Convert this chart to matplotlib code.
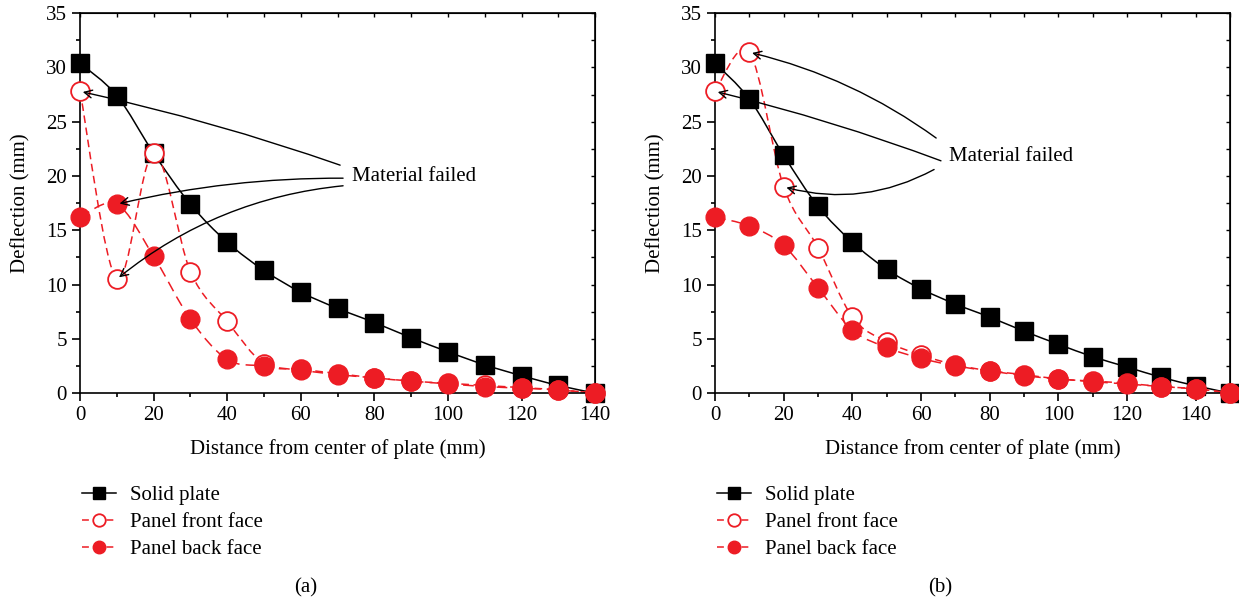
import numpy as np
import matplotlib
matplotlib.use("Agg")
import matplotlib.pyplot as plt
from matplotlib.path import Path
from matplotlib.patches import PathPatch
from matplotlib.lines import Line2D
from matplotlib.ticker import MultipleLocator

plt.rcParams["font.family"] = ["Liberation Serif", "DejaVu Serif"]
plt.rcParams["font.size"] = 15

RED = "#ED1C24"

# (a) plate, 0-140 mm
dist_a = [0, 10, 20, 30, 40, 50, 60, 70, 80, 90, 100, 110, 120, 130, 140]
solid_a = [30.4, 27.4, 22.1, 17.4, 13.9, 11.3, 9.3, 7.8, 6.5, 5.1, 3.8, 2.6, 1.6, 0.7, 0.0]
front_a = [27.8, 10.5, 22.1, 11.2, 6.6, 2.7, 2.2, 1.8, 1.4, 1.1, 0.9, 0.7, 0.5, 0.3, 0.0]
back_a = [16.2, 17.4, 12.6, 6.8, 3.1, 2.5, 2.1, 1.7, 1.4, 1.1, 0.85, 0.6, 0.45, 0.28, 0.0]

# (b) plate, 0-150 mm
dist_b = [0, 10, 20, 30, 40, 50, 60, 70, 80, 90, 100, 110, 120, 130, 140, 150]
solid_b = [30.4, 27.1, 21.9, 17.2, 13.9, 11.4, 9.6, 8.2, 7.0, 5.7, 4.5, 3.35, 2.4, 1.45, 0.67, 0.0]
front_b = [27.8, 31.4, 19.0, 13.4, 7.0, 4.75, 3.5, 2.6, 2.05, 1.7, 1.3, 1.1, 0.9, 0.6, 0.4, 0.0]
back_b = [16.2, 15.4, 13.6, 9.7, 5.8, 4.2, 3.2, 2.5, 2.05, 1.6, 1.3, 1.05, 0.83, 0.6, 0.37, 0.0]

# failure points marked by arrows: (x, y) of each failed reading
failed_a = [(0, 27.8), (10, 17.4), (10, 10.5)]
failed_b = [(10, 31.4), (0, 27.8), (20, 19.0)]


def spline_path(x, y):
    # Catmull-Rom curve through the points, written as cubic Bezier segments
    p = np.column_stack([x, y]).astype(float)
    ext = np.vstack([p[0], p, p[-1]])
    verts = [p[0]]
    codes = [Path.MOVETO]
    for i in range(len(p) - 1):
        p0, p1, p2, p3 = ext[i], ext[i + 1], ext[i + 2], ext[i + 3]
        verts += [p1 + (p2 - p0) / 6, p2 - (p3 - p1) / 6, p2]
        codes += [Path.CURVE4] * 3
    return Path(verts, codes)


def draw_series(ax, x, y, ls, line_color, mk):
    ax.add_patch(PathPatch(spline_path(x, y), fill=False, edgecolor=line_color,
                           linestyle=ls, linewidth=1.1, zorder=2))
    ax.plot(x, y, linestyle="none", zorder=3, clip_on=False, **mk)


def style_axes(ax, xmax):
    ax.set_xlim(0, xmax)
    ax.set_ylim(0, 35)
    ax.xaxis.set_major_locator(MultipleLocator(20))
    ax.xaxis.set_minor_locator(MultipleLocator(10))
    ax.yaxis.set_major_locator(MultipleLocator(5))
    ax.yaxis.set_minor_locator(MultipleLocator(2.5))
    ax.tick_params(which="both", direction="out", top=False, right=False, width=1.2)
    ax.tick_params(which="major", length=6)
    ax.tick_params(which="minor", length=3)
    for s in ax.spines.values():
        s.set_linewidth(1.2)
    # inner ticks on the top and right frame
    sec_x = ax.secondary_xaxis("top")
    sec_x.xaxis.set_major_locator(MultipleLocator(10))
    sec_x.tick_params(direction="in", length=3, labeltop=False, width=1)
    sec_y = ax.secondary_yaxis("right")
    sec_y.yaxis.set_major_locator(MultipleLocator(2.5))
    sec_y.tick_params(direction="in", length=3, labelright=False, width=1)
    ax.set_xlabel("Distance from center of plate (mm)", labelpad=10)
    ax.set_ylabel("Deflection (mm)", labelpad=11)


sq = dict(marker="s", markersize=12.5, markerfacecolor="black", markeredgecolor="black")
oc = dict(marker="o", markersize=13.5, markerfacecolor="white", markeredgecolor=RED,
          markeredgewidth=1.3)
fc = dict(marker="o", markersize=13.5, markerfacecolor=RED, markeredgecolor=RED)

fig = plt.figure(figsize=(12.39, 6.01), dpi=100)
ax_a = fig.add_axes([0.0646, 0.346, 0.4157, 0.632])
ax_b = fig.add_axes([0.5771, 0.346, 0.4157, 0.632])

for ax, x, s, f, b, xmax in [(ax_a, dist_a, solid_a, front_a, back_a, 140),
                             (ax_b, dist_b, solid_b, front_b, back_b, 150)]:
    draw_series(ax, x, s, "-", "black", sq)
    draw_series(ax, x, f, (0, (5, 3)), RED, oc)
    draw_series(ax, x, b, (0, (7, 4)), RED, fc)
    style_axes(ax, xmax)

# "Material failed" callouts
arrow = dict(arrowstyle="->", color="black", lw=1.0, shrinkA=0, shrinkB=2,
             mutation_scale=14)
starts_a = [(70.7, 21.0, 0.03), (71.5, 19.8, 0.06), (71.5, 19.1, 0.15)]
for (px, py), (sx, sy, rad) in zip(failed_a, starts_a):
    ax_a.annotate("", xy=(px, py), xytext=(sx, sy),
                  arrowprops=dict(connectionstyle=f"arc3,rad={rad}", **arrow))
ax_a.text(74.0, 20.0, "Material failed", va="center", ha="left")

starts_b = [(64.4, 23.5, 0.1), (65.8, 21.4, 0.03), (63.8, 20.6, -0.2)]
for (px, py), (sx, sy, rad) in zip(failed_b, starts_b):
    ax_b.annotate("", xy=(px, py), xytext=(sx, sy),
                  arrowprops=dict(connectionstyle=f"arc3,rad={rad}", **arrow))
ax_b.text(68.0, 21.8, "Material failed", va="center", ha="left")

handles = [
    Line2D([], [], color="black", linewidth=1.1, **sq),
    Line2D([], [], color=RED, linewidth=1.1, linestyle=(0, (4.5, 3.5)), **oc),
    Line2D([], [], color=RED, linewidth=1.1, linestyle=(0, (4.5, 3.5)), **fc),
]
for h in handles:
    h.set_markersize(9)
labels = ["Solid plate", "Panel front face", "Panel back face"]
for ax in (ax_a, ax_b):
    ax.legend(handles, labels, loc="upper left", bbox_to_anchor=(-0.012, -0.222),
              frameon=False, handlelength=1.6, handletextpad=0.7,
              labelspacing=0.35, borderaxespad=0)

fig.text(0.247, 0.022, "(a)", ha="center", va="center")
fig.text(0.759, 0.022, "(b)", ha="center", va="center")

fig.savefig("out.png", dpi=100)
